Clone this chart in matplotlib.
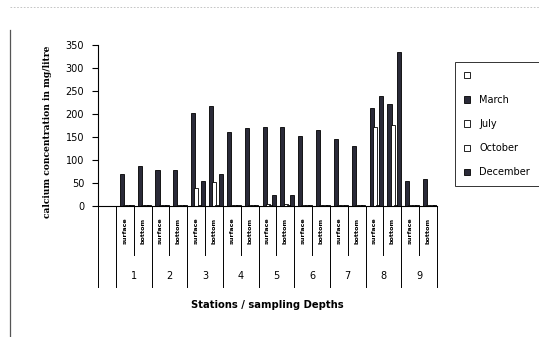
import matplotlib
matplotlib.use('Agg')
import matplotlib.pyplot as plt
import matplotlib.transforms as mtransforms
from matplotlib.patches import Patch
import numpy as np

# stations and sampling depths (18 categories after one empty slot)
stations = ['1', '2', '3', '4', '5', '6', '7', '8', '9']
depths = ['surface', 'bottom']

# values per category: st1 surface, st1 bottom, st2 surface, ...
blank = [0, 0, 0, 0, 0, 0, 0, 0, 0, 0, 0, 0, 0, 0, 0, 0, 0, 0]
march = [70, 87, 78, 78, 202, 217, 160, 170, 172, 172, 152, 165, 145, 130, 213, 222, 55, 58]
july = [3, 3, 3, 3, 40, 52, 3, 3, 5, 5, 3, 3, 3, 3, 172, 176, 3, 3]
october = [2, 2, 2, 2, 2, 2, 2, 2, 2, 2, 2, 2, 2, 2, 2, 2, 2, 2]
december = [3, 3, 3, 3, 55, 70, 2, 2, 24, 24, 2, 2, 2, 2, 239, 335, 2, 3]

series = [('', blank, 'white'),
          ('March', march, '#2a2a38'),
          ('July', july, 'white'),
          ('October', october, 'white'),
          ('December', december, '#2a2a38')]

fig = plt.figure(figsize=(5.39, 3.37), dpi=100)
ax = fig.add_axes([98 / 539, 1 - 206 / 337, (437 - 98) / 539, (206 - 45) / 337])

ncat = len(stations) * len(depths)
pos = np.arange(1, ncat + 1)
step = 0.18
w = 0.23
for j, (name, vals, col) in enumerate(series):
    ax.bar(pos + 0.04 + step * j, vals, width=w, align='edge', color=col,
           edgecolor='black', linewidth=0.6, label=name)

ax.set_xlim(0, ncat + 1)
ax.set_ylim(0, 350)
ax.set_yticks(np.arange(0, 351, 50))
ax.tick_params(axis='y', direction='out', length=4, width=0.8, pad=6, labelsize=7)
ax.set_xticks([])
for s in ['top', 'right']:
    ax.spines[s].set_visible(False)
ax.spines['left'].set_linewidth(0.8)
ax.spines['bottom'].set_linewidth(0.8)

# multi-level category axis below the plot
tr = mtransforms.blended_transform_factory(ax.transData, ax.transAxes)
short_y = -0.304
long_y = -0.503
for b in range(ncat + 2):
    if b <= 1 or (b - 1) % 2 == 0:
        yb = long_y
    else:
        yb = short_y
    ax.plot([b, b], [0, yb], color='black', lw=0.7, transform=tr, clip_on=False)

for i in range(ncat):
    ax.text(pos[i] + 0.5, -0.155, depths[i % 2], rotation=90, ha='center', va='center',
            fontsize=4.6, fontweight='bold', transform=tr)
for s, st in enumerate(stations):
    ax.text(2 * s + 2, -0.435, st, ha='center', va='center', fontsize=7, transform=tr)

fig.text(48 / 539, 1 - 132 / 337, 'calcium concentration in mg/litre', rotation=90,
         ha='center', va='center', fontsize=6.6, fontweight='bold', family='DejaVu Serif')
fig.text(267 / 539, 1 - 305 / 337, 'Stations / sampling Depths', ha='center', va='center',
         fontsize=7.2, fontweight='bold')

handles = [Patch(facecolor=c, edgecolor='black', linewidth=0.6) for _, _, c in series]
labels = [n for n, _, _ in series]
leg = fig.legend(handles, labels, loc='upper left', bbox_to_anchor=(455 / 539, 1 - 62 / 337),
                 fontsize=7, handlelength=0.6, handleheight=0.6, handletextpad=1.0,
                 labelspacing=1.45, borderpad=0.9, frameon=True, fancybox=False,
                 borderaxespad=0)
leg.get_frame().set_edgecolor('black')
leg.get_frame().set_linewidth(0.7)

# outer chart border of the scan
fig.add_artist(plt.Line2D([10 / 539, 10 / 539], [0, 1 - 30 / 337], color='#555555', lw=0.9))
fig.add_artist(plt.Line2D([10 / 539, 1], [1 - 7 / 337, 1 - 7 / 337], color='#bbbbbb', lw=0.6,
                          linestyle=(0, (2, 2))))

fig.savefig('out.png', dpi=100)
